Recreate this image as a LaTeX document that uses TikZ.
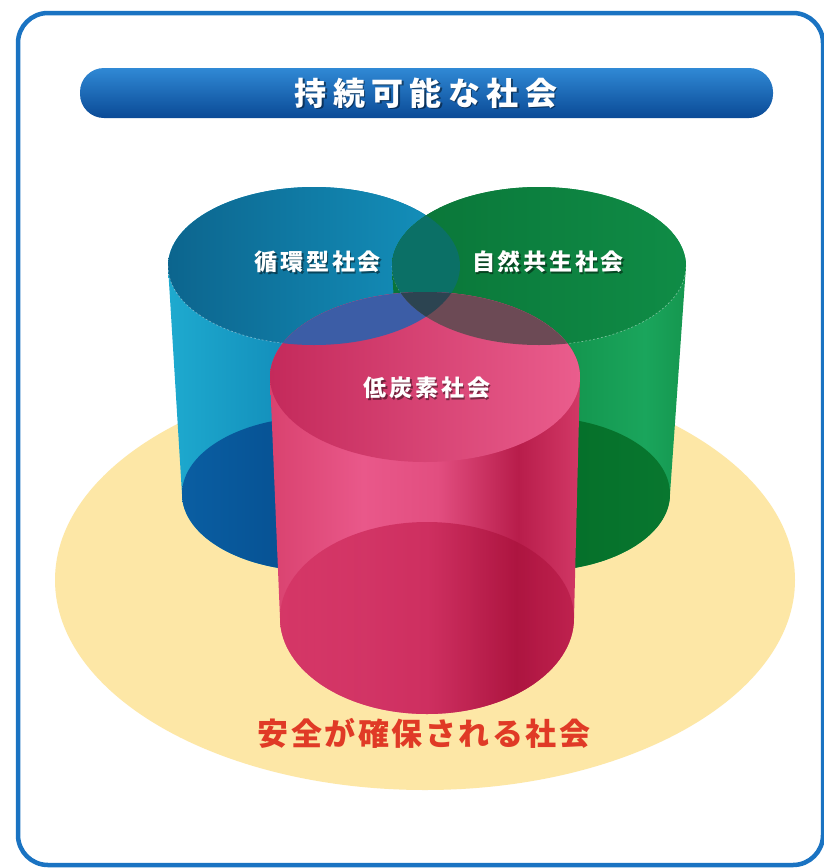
\documentclass[tikz,border=0pt]{standalone}
\usepackage{fontspec}
\newfontfamily\jp{Noto Sans CJK JP}

% palette
\definecolor{frameblue}{HTML}{1A73C2}
\definecolor{titleTop}{HTML}{3089D5}
\definecolor{titleBot}{HTML}{0A4A96}
\definecolor{baseyellow}{HTML}{FDE7A6}
\definecolor{safered}{HTML}{E03A26}
% blue cylinder
\definecolor{bA}{HTML}{1EAACF}
\definecolor{bB}{HTML}{1088B6}
\definecolor{bC}{HTML}{0B6E9C}
\definecolor{btA}{HTML}{0C658E}
\definecolor{btB}{HTML}{1493BE}
\definecolor{bbA}{HTML}{0A5EA2}
\definecolor{bbB}{HTML}{003E7C}
% green cylinder
\definecolor{gA}{HTML}{0A7439}
\definecolor{gB}{HTML}{119049}
\definecolor{gC}{HTML}{1AA55C}
\definecolor{gD}{HTML}{15974F}
\definecolor{gtA}{HTML}{0A7538}
\definecolor{gtB}{HTML}{0F8C46}
\definecolor{gbA}{HTML}{006522}
\definecolor{gbB}{HTML}{08772F}
% pink cylinder
\definecolor{pA}{HTML}{D9426F}
\definecolor{pB}{HTML}{E9588A}
\definecolor{pC}{HTML}{E24E80}
\definecolor{pD}{HTML}{B81D4B}
\definecolor{pE}{HTML}{D23866}
\definecolor{ptA}{HTML}{C42A5B}
\definecolor{ptB}{HTML}{EA5D8D}
\definecolor{pbA}{HTML}{D43565}
\definecolor{pbB}{HTML}{CB2A5B}
\definecolor{pbC}{HTML}{AC143F}
\definecolor{pbD}{HTML}{BC1E4B}
% overlaps of the top faces
\definecolor{ovBG}{HTML}{0B7066}
\definecolor{ovBP}{HTML}{3C5DA6}
\definecolor{ovGP}{HTML}{6C4A55}
\definecolor{ovAll}{HTML}{2C4451}

% side and face shadings (25bp = left edge, 75bp = right edge)
\pgfdeclarehorizontalshading{bluebody}{100bp}{color(0bp)=(bA); color(25bp)=(bA); color(50bp)=(bB); color(75bp)=(bC); color(100bp)=(bC)}
\pgfdeclarehorizontalshading{bluetop}{100bp}{color(0bp)=(btA); color(25bp)=(btA); color(75bp)=(btB); color(100bp)=(btB)}
\pgfdeclarehorizontalshading{bluebottom}{100bp}{color(0bp)=(bbA); color(25bp)=(bbA); color(75bp)=(bbB); color(100bp)=(bbB)}
\pgfdeclarehorizontalshading{greenbody}{100bp}{color(0bp)=(gA); color(25bp)=(gA); color(50bp)=(gB); color(68bp)=(gC); color(75bp)=(gD); color(100bp)=(gD)}
\pgfdeclarehorizontalshading{greentop}{100bp}{color(0bp)=(gtA); color(25bp)=(gtA); color(75bp)=(gtB); color(100bp)=(gtB)}
\pgfdeclarehorizontalshading{greenbottom}{100bp}{color(0bp)=(gbA); color(25bp)=(gbA); color(75bp)=(gbB); color(100bp)=(gbB)}
\pgfdeclarehorizontalshading{pinkbody}{100bp}{color(0bp)=(pA); color(25bp)=(pA); color(40bp)=(pB); color(52bp)=(pC); color(65bp)=(pD); color(75bp)=(pE); color(100bp)=(pE)}
\pgfdeclarehorizontalshading{pinktop}{100bp}{color(0bp)=(ptA); color(25bp)=(ptA); color(75bp)=(ptB); color(100bp)=(ptB)}
\pgfdeclarehorizontalshading{pinkbottom}{100bp}{color(0bp)=(pbA); color(25bp)=(pbA); color(50bp)=(pbB); color(65bp)=(pbC); color(75bp)=(pbD); color(100bp)=(pbD)}

\tikzset{
  cyllabel/.style={font=\jp\bfseries\fontsize{23}{23}\selectfont\addfontfeatures{LetterSpace=12}, text=white, inner sep=0pt},
  cylshadow/.style={cyllabel, text=black, opacity=0.45},
  titlelabel/.style={font=\jp\bfseries\fontsize{32}{32}\selectfont\addfontfeatures{LetterSpace=20}, text=white, inner sep=0pt},
  titleshadow/.style={titlelabel, text=black, opacity=0.45},
  baselabel/.style={font=\jp\bfseries\fontsize{31}{31}\selectfont\addfontfeatures{LetterSpace=8}, text=safered, inner sep=0pt},
  rim/.style={white, opacity=0.45, line width=0.6pt, dash pattern=on 2pt off 2pt},
}

\begin{document}
\begin{tikzpicture}[x=1pt,y=1pt]
\useasboundingbox (0,0) rectangle (824,-868);
\fill[white] (0,0) rectangle (824,-868);

% outer frame
\draw[frameblue, line width=4.5pt, rounded corners=30pt] (18,-13) rectangle (823,-865);

% title bar
\shade[top color=titleTop, bottom color=titleBot, rounded corners=24pt] (80,-68) rectangle (773,-118);
\node[titleshadow] (titleS) at (427.5,-94.5) {持続可能な社会};
\node[titlelabel] (title) at (426,-93) {持続可能な社会};

% base disc
\fill[baseyellow] (425,-580) ellipse[x radius=370, y radius=210];

% blue cylinder
\shade[shading=bluebody] (168,-266) -- (182,-494)
  arc[start angle=180, end angle=360, x radius=134, y radius=77] -- (460,-266)
  arc[start angle=0, end angle=180, x radius=146, y radius=79] -- cycle;
\shade[shading=bluebottom] (316,-494) ellipse[x radius=134, y radius=77];
\shade[shading=bluetop] (314,-266) ellipse[x radius=146, y radius=79];
\draw[rim] (168,-266) arc[start angle=180, end angle=360, x radius=146, y radius=79];

% green cylinder
\shade[shading=greenbody] (392,-266) -- (404,-494)
  arc[start angle=180, end angle=360, x radius=133, y radius=77] -- (686,-266)
  arc[start angle=0, end angle=180, x radius=147, y radius=79] -- cycle;
\shade[shading=greenbottom] (537,-494) ellipse[x radius=133, y radius=77];
\shade[shading=greentop] (539,-266) ellipse[x radius=147, y radius=79];
\draw[rim] (392,-266) arc[start angle=180, end angle=360, x radius=147, y radius=79];

% blue/green overlap of the top faces
\begin{scope}
  \clip (314,-266) ellipse[x radius=146, y radius=79];
  \fill[ovBG] (539,-266) ellipse[x radius=147, y radius=79];
\end{scope}

% pink cylinder in front
\shade[shading=pinkbody] (270,-377) -- (280,-618)
  arc[start angle=180, end angle=360, x radius=147, y radius=96] -- (580,-377)
  arc[start angle=0, end angle=180, x radius=155, y radius=85] -- cycle;
\shade[shading=pinkbottom, opacity=0.85] (427,-618) ellipse[x radius=147, y radius=96];
\shade[shading=pinktop] (425,-377) ellipse[x radius=155, y radius=85];

% overlaps with the pink top face
\begin{scope}
  \clip (314,-266) ellipse[x radius=146, y radius=79];
  \fill[ovBP] (425,-377) ellipse[x radius=155, y radius=85];
\end{scope}
\begin{scope}
  \clip (539,-266) ellipse[x radius=147, y radius=79];
  \fill[ovGP] (425,-377) ellipse[x radius=155, y radius=85];
\end{scope}
\begin{scope}
  \clip (314,-266) ellipse[x radius=146, y radius=79];
  \clip (539,-266) ellipse[x radius=147, y radius=79];
  \fill[ovAll] (425,-377) ellipse[x radius=155, y radius=85];
\end{scope}

% cylinder labels
\node[cylshadow] (recycS) at (319.5,-263.5) {循環型社会};
\node[cyllabel] (recyc) at (318,-262) {循環型社会};
\node[cylshadow] (natureS) at (549.5,-263.5) {自然共生社会};
\node[cyllabel] (nature) at (548,-262) {自然共生社会};
\node[cylshadow] (carbonS) at (428.5,-389.5) {低炭素社会};
\node[cyllabel] (carbon) at (427,-388) {低炭素社会};

% base label
\node[baselabel] (safe) at (424,-733) {安全が確保される社会};
\end{tikzpicture}
\end{document}
